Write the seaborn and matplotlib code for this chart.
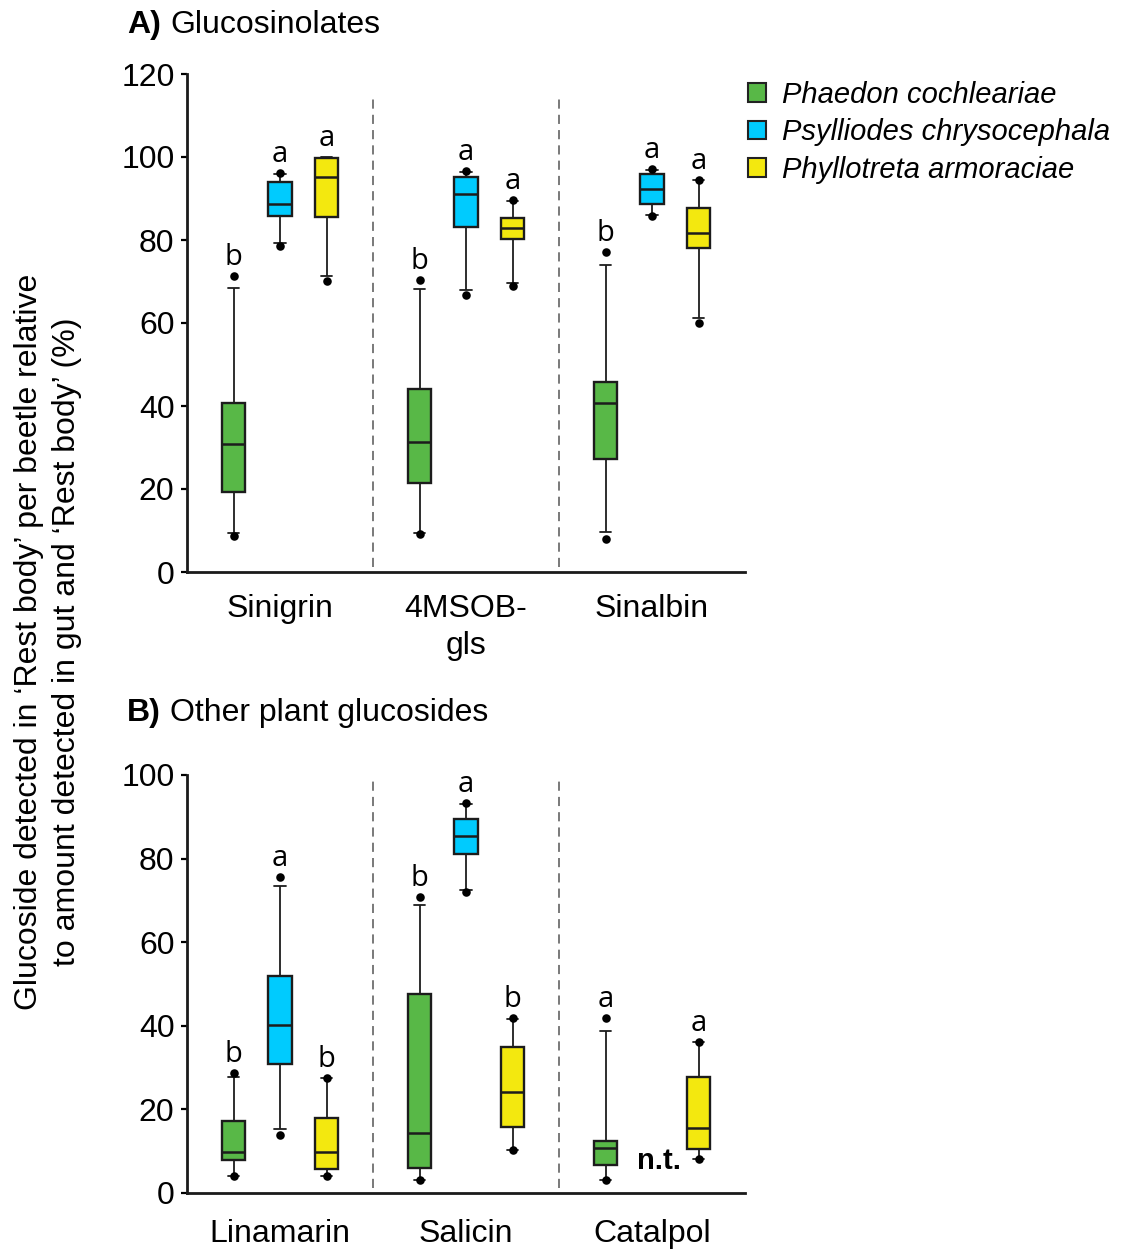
import numpy as np
import pandas as pd
import matplotlib
matplotlib.use("Agg")
import matplotlib.pyplot as plt
import seaborn as sns
from matplotlib.patches import Patch

# ---------------- data ----------------
species = ["Phaedon cochleariae", "Psylliodes chrysocephala", "Phyllotreta armoraciae"]
colors = ["#58b847", "#00cbfe", "#f3e80f"]

# Panel A: glucosinolates (rows = compounds, cols = species)
compounds_a = ["Sinigrin", "4MSOB-\ngls", "Sinalbin"]
whislo_a = [[9.4, 79.2, 71.4], [9.4, 67.9, 69.6], [9.6, 86.0, 61.2]]
q1_a     = [[19.2, 85.7, 85.6], [21.5, 83.1, 80.2], [27.2, 88.7, 78.1]]
med_a    = [[30.8, 88.7, 95.3], [31.4, 91.0, 83.0], [40.7, 92.4, 81.6]]
q3_a     = [[40.8, 93.9, 99.8], [44.1, 95.1, 85.3], [45.7, 95.8, 87.7]]
whishi_a = [[68.5, 95.9, 100.0], [68.2, 96.3, 89.4], [74.0, 96.9, 94.4]]
dotlo_a  = [[8.7, 78.5, 70.1], [9.1, 66.8, 68.8], [8.0, 85.7, 60.0]]
dothi_a  = [[71.3, 96.1, np.nan], [70.4, 96.7, 89.6], [77.1, 97.1, 94.5]]
letters_a = [["b", "a", "a"], ["b", "a", "a"], ["b", "a", "a"]]

# Panel B: other plant glucosides
compounds_b = ["Linamarin", "Salicin", "Catalpol"]
whislo_b = [[4.0, 15.3, 4.1], [3.2, 72.6, 10.3], [3.2, np.nan, 8.1]]
q1_b     = [[7.9, 30.9, 5.7], [6.0, 81.0, 15.7], [6.8, np.nan, 10.5]]
med_b    = [[9.7, 40.1, 9.7], [14.3, 85.4, 24.2], [10.7, np.nan, 15.5]]
q3_b     = [[17.3, 51.8, 18.0], [47.5, 89.5, 35.0], [12.5, np.nan, 27.8]]
whishi_b = [[27.8, 73.5, 27.4], [69.0, 93.0, 41.7], [38.7, np.nan, 36.2]]
dotlo_b  = [[4.0, 13.9, 4.0], [3.2, 71.9, 10.3], [3.2, np.nan, 8.1]]
dothi_b  = [[28.6, 75.6, 27.6], [70.7, 93.2, 41.8], [41.8, np.nan, 36.2]]
letters_b = [["b", "a", "b"], ["b", "a", "b"], ["a", "", "a"]]
not_tested_b = [["", "", ""], ["", "", ""], ["", "n.t.", ""]]

yticks_a = [0, 20, 40, 60, 80, 100, 120]
yticks_b = [0, 20, 40, 60, 80, 100]

# ---------------- style ----------------
sns.set_style("ticks")
plt.rcParams["font.family"] = ["Liberation Sans", "DejaVu Sans"]
plt.rcParams["text.color"] = "black"
plt.rcParams["xtick.color"] = "black"
plt.rcParams["ytick.color"] = "black"
plt.rcParams["axes.labelcolor"] = "black"

W, H = 1125, 1249
fig = plt.figure(figsize=(W / 100, H / 100), dpi=100)

left = 187 / W
width = (745 - 187) / W
ax_a = fig.add_axes([left, 1 - 572 / H, width, (572 - 74) / H])
ax_b = fig.add_axes([left, 1 - 1193 / H, width, (1193 - 775) / H])

WIDTH = 0.75
n_h = len(species)
offsets = (np.arange(n_h) - (n_h - 1) / 2) * WIDTH / n_h


def draw_panel(ax, compounds, lo, q1, med, q3, hi, dlo, dhi, letters, yticks,
               dash_lo, dash_hi, xpad, nt=None):
    rows = []
    for i, c in enumerate(compounds):
        for j, s in enumerate(species):
            if np.isnan(med[i][j]):
                continue
            for v in (lo[i][j], q1[i][j], med[i][j], q3[i][j], hi[i][j]):
                rows.append({"compound": c, "species": s, "value": v})
    df = pd.DataFrame(rows)
    sns.boxplot(data=df, x="compound", y="value", hue="species",
                order=compounds, hue_order=species, palette=colors,
                saturation=1, width=WIDTH, gap=0.5, whis=(0, 100),
                showfliers=False, linewidth=1.7, linecolor="#1c1c1c",
                whiskerprops=dict(linewidth=1.3), capprops=dict(linewidth=1.3),
                medianprops=dict(linewidth=1.8),
                legend=False, ax=ax)
    xs, ys = [], []
    for i in range(len(compounds)):
        for j in range(n_h):
            x = i + offsets[j]
            for v in (dlo[i][j], dhi[i][j]):
                if not np.isnan(v):
                    xs.append(x)
                    ys.append(v)
            if letters[i][j]:
                top = np.nanmax([hi[i][j], dhi[i][j]])
                ax.annotate(letters[i][j], (x, top), xytext=(0, 8),
                            textcoords="offset points", ha="center", va="baseline",
                            fontsize=21, family=["Open Sans", "DejaVu Sans"])
            if nt is not None and nt[i][j]:
                ax.annotate(nt[i][j], (x, 7.7), xytext=(5, 0), textcoords="offset points",
                            ha="center", va="center",
                            fontsize=21, fontweight="bold",
                            family=["Liberation Sans Narrow", "Liberation Sans"])
    ax.scatter(xs, ys, s=38, color="black", zorder=6, linewidths=0)
    ax.vlines([0.5, 1.5], dash_lo, dash_hi, colors="#555555",
              linestyles=(0, (6, 4)), linewidth=1.1)
    ax.set_xlim(-0.5, len(compounds) - 0.5)
    ax.set_ylim(0, yticks[-1])
    ax.set_yticks(yticks)
    ax.set_xlabel("")
    ax.set_ylabel("")
    for sp in ("top", "right"):
        ax.spines[sp].set_visible(False)
    for sp in ("left", "bottom"):
        ax.spines[sp].set_linewidth(2.0)
        ax.spines[sp].set_color("#1a1a1a")
    ax.tick_params(axis="x", length=0, pad=xpad, labelsize=23)
    ax.tick_params(axis="y", length=4, width=1.6, pad=5, labelsize=23)
    for lab in ax.get_xticklabels():
        lab.set_linespacing(1.3)


draw_panel(ax_a, compounds_a, whislo_a, q1_a, med_a, q3_a, whishi_a,
           dotlo_a, dothi_a, letters_a, yticks_a, 1.2, 114, 16)
draw_panel(ax_b, compounds_b, whislo_b, q1_b, med_b, q3_b, whishi_b,
           dotlo_b, dothi_b, letters_b, yticks_b, 1.3, 99, 19, nt=not_tested_b)

# panel titles
fig.text(127 / W, 1 - 25 / H, "A)", fontsize=23, fontweight="bold", va="center", ha="left")
fig.text(170 / W, 1 - 25 / H, "Glucosinolates", fontsize=23, va="center", ha="left")
fig.text(127 / W, 1 - 713 / H, "B)", fontsize=23, fontweight="bold", va="center", ha="left")
fig.text(170 / W, 1 - 713 / H, "Other plant glucosides", fontsize=23, va="center", ha="left")

# shared y label
fig.text(48 / W, 1 - 642 / H,
         "Glucoside detected in \u2018Rest body\u2019 per beetle relative\n"
         "to amount detected in gut and \u2018Rest body\u2019 (%)",
         rotation=90, ha="center", va="center", multialignment="center",
         fontsize=23, linespacing=1.32)

# legend
handles = [Patch(facecolor=c, edgecolor="#222222", linewidth=1.5, label=s)
           for c, s in zip(colors, species)]
fig.legend(handles=handles, loc="upper left", bbox_to_anchor=(748 / W, 1 - 81 / H),
           frameon=False, prop=dict(family="Liberation Sans", style="italic", size=21),
           handlelength=0.6, handleheight=0.6, handletextpad=0.55,
           labelspacing=0.32, borderpad=0, borderaxespad=0)

fig.savefig("out.png", dpi=100)
